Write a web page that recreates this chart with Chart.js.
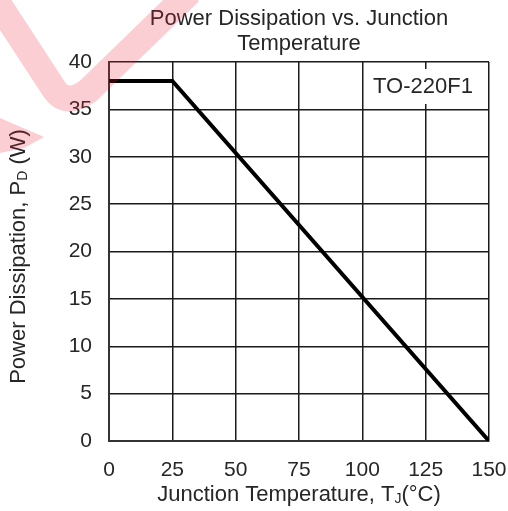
<!DOCTYPE html>
<html>
<head>
<meta charset="utf-8">
<script src="https://cdn.jsdelivr.net/npm/chart.js@4.4.1/dist/chart.umd.min.js"></script>
<style>
  html, body { margin: 0; padding: 0; background: #fff; }
  #wrap { width: 508px; height: 511px; }
</style>
</head>
<body>
<div id="wrap"><canvas id="pd"></canvas></div>
<script>
// values
const tempC = [0, 25, 150];
const powerW = [38, 38, 0];
const xTicks = [0, 25, 50, 75, 100, 125, 150];
const yTicks = [0, 5, 10, 15, 20, 25, 30, 35, 40];
const titleLines = ["Power Dissipation vs. Junction", "Temperature"];
const packageLabel = "TO-220F1";

const FONT = "'Liberation Sans', Arial, sans-serif";
const INK = "#262626";

// draws a row of text pieces (some subscripted) centred on cx, cy
function drawRich(ctx, parts, cx, cy) {
    let total = 0;
    parts.forEach(p => {
        ctx.font = `${p.size}px ${FONT}`;
        p.w = ctx.measureText(p.text).width;
        total += p.w;
    });
    let x = cx - total / 2;
    ctx.textAlign = "left";
    ctx.textBaseline = "middle";
    parts.forEach(p => {
        ctx.font = `${p.size}px ${FONT}`;
        ctx.fillText(p.text, x, cy + (p.dy || 0));
        x += p.w;
    });
}

const textPlugin = {
    id: "texts",
    afterDatasetsDraw(chart) {
        const { ctx, chartArea: a } = chart;
        const cx = (a.left + a.right) / 2;
        ctx.save();
        ctx.fillStyle = INK;
        ctx.textAlign = "center";
        ctx.textBaseline = "middle";
        ctx.font = `22px ${FONT}`;
        ctx.fillText(titleLines[0], cx, 19);
        ctx.fillText(titleLines[1], cx, 44);

        // package label box, sits on top of the grid
        ctx.fillStyle = "#fff";
        ctx.fillRect(367, 69, 112, 35);
        ctx.fillStyle = INK;
        ctx.textAlign = "center";
        ctx.fillText(packageLabel, 423, 87);

        drawRich(ctx, [
            { text: "Junction Temperature, T", size: 22 },
            { text: "J", size: 14, dy: 4 },
            { text: "(°C)", size: 22 }
        ], cx, 495);

        ctx.translate(19, (a.top + a.bottom) / 2 + 5);
        ctx.rotate(-Math.PI / 2);
        drawRich(ctx, [
            { text: "Power Dissipation, P", size: 22 },
            { text: "D", size: 14, dy: 4 },
            { text: " (W)", size: 22 }
        ], 0, 0);
        ctx.restore();
    },
    afterDraw(chart) {
        // pink watermark swoosh over the top left corner (decoration only)
        const ctx = chart.ctx;
        ctx.save();
        ctx.strokeStyle = "rgba(230, 30, 50, 0.22)";
        ctx.fillStyle = "rgba(230, 30, 50, 0.22)";
        ctx.lineWidth = 26;
        ctx.lineJoin = "round";
        ctx.beginPath();
        ctx.moveTo(-6, -3);
        ctx.lineTo(54, 89);
        ctx.quadraticCurveTo(66, 107, 88, 91);
        ctx.lineTo(190, -8);
        ctx.stroke();
        ctx.beginPath();
        ctx.moveTo(0, 118);
        ctx.lineTo(44, 137);
        ctx.lineTo(24, 148);
        ctx.lineTo(0, 153);
        ctx.closePath();
        ctx.fill();
        ctx.restore();
    }
};

new Chart(document.getElementById("pd"), {
    type: "line",
    data: {
        datasets: [{
            data: tempC.map((t, i) => ({ x: t, y: powerW[i] })),
            borderColor: "#000",
            borderWidth: 4,
            pointRadius: 0,
            tension: 0,
            fill: false,
        }]
    },
    options: {
        responsive: true,
        maintainAspectRatio: false,
        animation: false,
        layout: { padding: { top: 62, right: 19, left: 0, bottom: 0 } },
        plugins: {
            legend: { display: false },
            tooltip: { enabled: false },
        },
        scales: {
            x: {
                type: "linear",
                min: 0, max: 150,
                afterBuildTicks: s => { s.ticks = xTicks.map(v => ({ value: v })); },
                afterFit: s => { s.height = 70; s.paddingLeft = 0; s.paddingRight = 0; },
                grid: { color: "#1a1a1a", lineWidth: 1.5, drawTicks: false },
                border: { color: "#333", width: 2 },
                ticks: { color: INK, font: { family: FONT, size: 21 }, padding: 17, maxRotation: 0 },
            },
            y: {
                min: 0, max: 40,
                afterBuildTicks: s => { s.ticks = yTicks.map(v => ({ value: v })); },
                afterFit: s => { s.width = 109; s.paddingTop = 0; s.paddingBottom = 0; },
                grid: { color: "#1a1a1a", lineWidth: 1.5, drawTicks: false },
                border: { color: "#333", width: 2 },
                ticks: { color: INK, font: { family: FONT, size: 21 }, padding: 17 },
            }
        }
    },
    plugins: [textPlugin]
});
</script>
</body>
</html>
